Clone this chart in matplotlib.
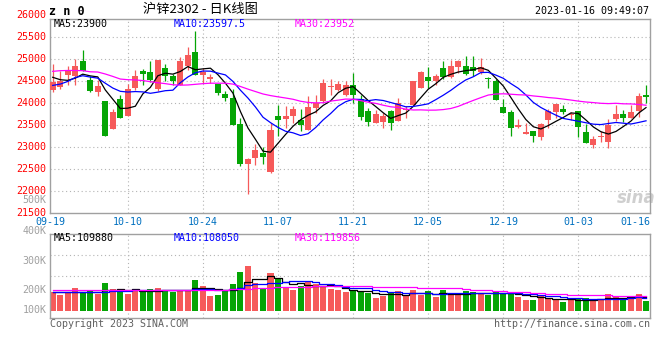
import numpy as np
import pandas as pd
import matplotlib
matplotlib.use('Agg')
import matplotlib.pyplot as plt
import matplotlib.transforms as mtransforms

# daily candles, 2022-09-19 .. 2023-01-16 (80 trading days)
opens = [24290, 24358, 24648, 24610, 24960, 24534, 24252, 24054, 23415, 24092,
         23712, 24343, 24739, 24716, 24320, 24800, 24625, 24419, 24853, 25165,
         24648, 24556, 24442, 24206, 24115, 23521, 22616, 22745, 22867, 22426,
         23719, 23636, 23704, 23613, 23392, 23887, 24054, 24373, 24298, 24191,
         24412, 24092, 23818, 23544, 23567, 23818, 23597, 23841, 23963, 24343,
         24594, 24511, 24800, 24594, 24823, 24838, 24823, 24709, 24579, 24495,
         23910, 23795, 23453, 23293, 23377, 23224, 23620, 23795, 23864, 23735,
         23811, 23354, 23050, 23232, 23111, 23636, 23750, 23674, 23811, 24176]
highs = [24891, 24739, 24853, 25005, 25211, 24625, 24534, 24054, 23864, 24191,
         24434, 24754, 24777, 24952, 24990, 24891, 24663, 25043, 25279, 25637,
         24800, 24663, 24442, 24267, 24328, 23673, 22760, 23065, 23011, 23544,
         23963, 23925, 23925, 23864, 24153, 24191, 24549, 24549, 24511, 24511,
         24686, 24191, 23887, 23849, 23773, 23849, 24115, 23925, 24511, 24739,
         24823, 24671, 24967, 24990, 24990, 25066, 25081, 25028, 24587, 24549,
         24100, 23849, 23636, 23559, 23377, 23559, 23864, 23978, 23948, 23810,
         23826, 23521, 23255, 23377, 23636, 23948, 23849, 23963, 24229, 24419]
lows = [24252, 24320, 24419, 24419, 24724, 24252, 24160, 23255, 23415, 23666,
        23712, 24298, 24404, 24472, 24282, 24495, 24419, 24419, 24762, 24632,
        24457, 24457, 24191, 24054, 23506, 22578, 21931, 22593, 22616, 22403,
        23255, 23430, 23544, 23369, 23392, 23773, 24024, 24191, 24267, 24168,
        23999, 23620, 23483, 23544, 23430, 23392, 23597, 23658, 23963, 24343,
        24343, 24419, 24549, 24572, 24686, 24648, 24625, 24671, 24343, 24062,
        23773, 23255, 23430, 23293, 23126, 23164, 23445, 23658, 23750, 23620,
        23224, 23088, 22974, 23111, 22989, 23597, 23582, 23658, 23696, 23999]
closes = [24480, 24511, 24739, 24853, 24724, 24282, 24397, 23255, 23795, 23666,
          24320, 24617, 24663, 24534, 24990, 24610, 24511, 24967, 25089, 24632,
          24709, 24587, 24229, 24115, 23506, 22608, 22722, 22928, 22775, 23392,
          23620, 23719, 23871, 23506, 23910, 24001, 24457, 24389, 24434, 24419,
          24191, 23681, 23582, 23750, 23712, 23544, 24001, 23864, 24511, 24701,
          24511, 24625, 24594, 24853, 24967, 24671, 24724, 24823, 24556, 24077,
          23773, 23430, 23506, 23354, 23255, 23521, 23826, 23978, 23803, 23765,
          23453, 23088, 23179, 23263, 23506, 23750, 23658, 23795, 24153, 24145]
volumes_k = [154, 127, 146, 184, 152, 160, 135, 225, 176, 168,
             135, 168, 154, 176, 184, 168, 152, 168, 168, 249,
             200, 119, 127, 160, 216, 314, 363, 225, 184, 306,
             257, 187, 168, 200, 241, 216, 195, 176, 168, 152,
             168, 154, 146, 103, 119, 152, 160, 119, 168, 127,
             160, 114, 168, 127, 127, 160, 154, 143, 127, 154,
             146, 152, 111, 89, 87, 119, 103, 87, 70, 87,
             106, 103, 87, 87, 135, 119, 103, 111, 135, 81]

# moving averages before enough visible history exists
ma5_head = [24590, 24535, 24520, 24570]
ma10_head = [24405, 24435, 24495, 24585, 24625, 24595, 24570, 24455, 24345]
ma30_head = [24725, 24740, 24745, 24745, 24740, 24715, 24710, 24665, 24610, 24550,
             24535, 24530, 24515, 24490, 24465, 24445, 24420, 24410, 24415, 24430,
             24445, 24455, 24455, 24455, 24435, 24380, 24320, 24265, 24210]
vma5_head = [149, 149, 151, 155]
vma10_head = [154, 152, 151, 150, 150, 151, 152, 155, 158]
vma30_head = [168, 168, 167, 167, 167, 166, 166, 166, 166, 166,
              166, 166, 166, 166, 166, 167, 167, 167, 168, 168,
              169, 169, 170, 171, 173, 176, 179, 181, 183]

# legend texts as printed on the chart
price_ma_text = ['MA5:23900', 'MA10:23597.5', 'MA30:23952']
vol_ma_text = ['MA5:109880', 'MA10:108050', 'MA30:119856']

date_labels = ['09-19', '10-10', '10-24', '11-07', '11-21', '12-05', '12-19', '01-03', '01-16']
date_idx = [0, 10, 20, 30, 40, 50, 60, 70, 79]
price_ticks = [26000, 25500, 25000, 24500, 24000, 23500, 23000, 22500, 22000, 21500]
vol_tick_labels = ['400K', '300K', '200K', '100K']

title = '沪锌2302 - 日K线图'
stamp = '2023-01-16 09:49:07'


def with_head(values, n, head):
    out = pd.Series(values, dtype=float).rolling(n).mean().to_numpy()
    out[:len(head)] = head
    return out


o = np.array(opens)
h = np.array(highs)
l = np.array(lows)
c = np.array(closes)
vol = np.array(volumes_k) * 1000.0
x = np.arange(len(c))

ma5 = with_head(c, 5, ma5_head)
ma10 = with_head(c, 10, ma10_head)
ma30 = with_head(c, 30, ma30_head)
vma5 = with_head(vol, 5, np.array(vma5_head) * 1000.0)
vma10 = with_head(vol, 10, np.array(vma10_head) * 1000.0)
vma30 = with_head(vol, 30, np.array(vma30_head) * 1000.0)

RED = '#f65a5a'
GREEN = '#05a505'
GRID = '#b4b4b4'
EDGE = '#a0a0a0'
MONO = 'DejaVu Sans Mono'
FS = 7.2
MA_COLORS = ['black', '#0000ff', '#ff00ff']
LEG_X = [0.0067, 0.2067, 0.408]

colors = np.where(c >= o, RED, GREEN)

W, H = 660, 360
fig = plt.figure(figsize=(6.6, 3.6), dpi=100)
ax1 = fig.add_axes([50 / W, 1 - 213 / H, 600 / W, 194 / H])
ax2 = fig.add_axes([50 / W, 1 - 317.7 / H, 600 / W, 83.7 / H])

xmin, xmax = -0.36, 79.53

# ---- price panel
ax1.vlines(x, l, h, color=colors, lw=0.9, zorder=2)
ax1.bar(x, np.maximum(np.abs(c - o), 18), bottom=np.minimum(o, c), width=0.8,
        color=colors, zorder=3)
for line, col in zip([ma5, ma10, ma30], MA_COLORS):
    ax1.plot(x, line, color=col, lw=0.9, zorder=4)
ax1.set_xlim(xmin, xmax)
ax1.set_ylim(21500, 25917)

for v in price_ticks[1:-1]:
    ax1.axhline(v, color=GRID, lw=0.8, ls=(0, (1, 2.5)), zorder=1)
for i in date_idx[1:-1]:
    ax1.axvline(i, color=GRID, lw=0.8, ls=(0, (1, 2.5)), zorder=1)

tr1 = mtransforms.blended_transform_factory(ax1.transAxes, ax1.transData)
for v in price_ticks:
    ax1.text(-0.0055, v, str(v), transform=tr1, ha='right', va='center',
             color='red', fontsize=FS, family=MONO, clip_on=False)

trx = mtransforms.blended_transform_factory(ax1.transData, ax1.transAxes)
for lab, i in zip(date_labels, date_idx):
    if i == date_idx[0]:
        xpos, ha = xmin, 'center'
    elif i == date_idx[-1]:
        xpos, ha = xmax, 'right'
    else:
        xpos, ha = i, 'center'
    ax1.text(xpos, -0.044, lab, transform=trx, ha=ha, va='center',
             color='#0070c0', fontsize=FS, family=MONO)

for txt, col, lx in zip(price_ma_text, MA_COLORS, LEG_X):
    ax1.text(lx, 0.974, txt, transform=ax1.transAxes, ha='left', va='center',
             fontsize=FS, family=MONO, color=col)

ax1.text(0.977, 0.076, 'sina', transform=ax1.transAxes, ha='center', va='center',
         fontsize=12, fontweight='bold', style='italic', color='#cfcfcf', zorder=0)

# ---- volume panel
ax2.bar(x, vol, width=0.8, color=colors, zorder=2)
for line, col in zip([vma5, vma10, vma30], MA_COLORS):
    ax2.plot(x, line, color=col, lw=0.9, drawstyle='steps-mid', zorder=3)
ax2.set_xlim(xmin, xmax)
ax2.set_ylim(-7 * 8118, 76.7 * 8118)
y0, y1 = ax2.get_ylim()
for frac in [0.75, 0.5]:
    ax2.axhline(y0 + frac * (y1 - y0), color=GRID, lw=0.8, ls=(0, (1, 2.5)), zorder=1)
for i in date_idx[1:-1]:
    ax2.axvline(i, color=GRID, lw=0.8, ls=(0, (1, 2.5)), zorder=1)

for txt, col, lx in zip(vol_ma_text, MA_COLORS, LEG_X):
    ax2.text(lx, 0.952, txt, transform=ax2.transAxes, ha='left', va='center',
             fontsize=FS, family=MONO, color=col)

for ax in (ax1, ax2):
    ax.set_xticks([])
    ax.set_yticks([])
    for s in ax.spines.values():
        s.set_color(EDGE)
        s.set_linewidth(1.0)

# gray axis labels of the volume panel (Sina puts them at fixed rows)
for lab, ypx in zip(vol_tick_labels, [230.7, 261, 290.3, 310.3]):
    fig.text(46.5 / W, 1 - ypx / H, lab, ha='right', va='center',
             color='#a0a0a0', fontsize=FS, family=MONO)
fig.text(46.5 / W, 1 - 200 / H, '500K', ha='right', va='center',
         color='#a0a0a0', fontsize=FS, family=MONO)

# header and footer
fig.text(49 / W, 1 - 11.5 / H, 'z n 0', ha='left', va='center', fontsize=8.5,
         fontweight='bold', family=MONO, color='black')
fig.text(200 / W, 1 - 10 / H, title, ha='center', va='center', fontsize=9.5,
         family=['Noto Sans CJK SC', 'DejaVu Sans'], color='black')
fig.text(649 / W, 1 - 11.5 / H, stamp, ha='right', va='center', fontsize=FS,
         family=MONO, color='black')
fig.text(50 / W, 1 - 324 / H, 'Copyright 2023 SINA.COM', ha='left', va='center',
         fontsize=FS, family=MONO, color='#606060')
fig.text(650 / W, 1 - 324 / H, 'http://finance.sina.com.cn', ha='right', va='center',
         fontsize=FS, family=MONO, color='#606060')

fig.savefig('out.png', dpi=100, facecolor='white')
